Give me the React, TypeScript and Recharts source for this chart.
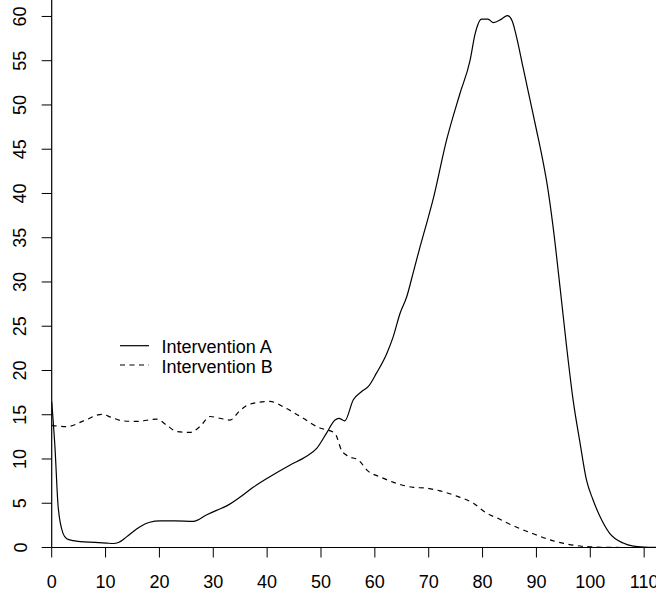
import React from "react";
import { LineChart, Line, XAxis, YAxis, Legend } from "recharts";

const seriesNames = ["Intervention A", "Intervention B"];

const aX = [0, 0.6, 1.2, 2.1, 2.8, 4, 5.3, 8, 10.2, 11.4, 12.5, 13.9, 16.4, 18.2, 20.1, 23, 26.3, 28.8, 30.6, 32.5, 35, 37.4, 40.5, 44.2, 47.3, 49.2, 51, 52.6, 53.3, 54.4, 56, 57.5, 58.8, 60.3, 62.2, 63.4, 64.7, 65.9, 67.1, 68.4, 69.6, 70.8, 73.3, 75.8, 77.7, 78.6, 79.8, 81, 82, 83.5, 84.6, 85.5, 86.3, 87.5, 88.8, 90, 91, 92, 93.1, 94.4, 95.6, 96.8, 98.1, 99.3, 100.5, 101.8, 103.6, 106.1, 108, 110, 112.2];
const aY = [16.5, 11.4, 4.6, 1.6, 1.0, 0.78, 0.66, 0.58, 0.5, 0.45, 0.6, 1.2, 2.35, 2.85, 3.0, 3.0, 2.95, 3.7, 4.2, 4.7, 5.7, 6.8, 8.0, 9.3, 10.3, 11.2, 12.9, 14.4, 14.6, 14.3, 16.7, 17.6, 18.2, 19.7, 21.9, 23.8, 26.5, 28.3, 31.0, 34.0, 36.6, 39.3, 46.0, 51.3, 55.1, 58.0, 59.7, 59.7, 59.3, 59.7, 60.1, 59.5, 57.7, 54.3, 50.6, 47.2, 44.3, 41.0, 36.2, 29.3, 22.7, 16.7, 11.8, 7.6, 5.4, 3.5, 1.6, 0.5, 0.15, 0.05, 0.02];

const bX = [0, 2.8, 5.9, 9.3, 11.1, 13.3, 15.8, 19.5, 21.3, 23.2, 25.7, 27.5, 29.4, 31.2, 33.1, 35, 36.8, 40.5, 43.6, 46.7, 49.8, 51, 52.6, 53.8, 55.1, 56.9, 58.8, 60.9, 64, 67.1, 69.6, 72.1, 75.2, 78.3, 80.7, 83.2, 84.5, 89.4, 93.7, 98.1, 102, 106, 112.2];
const bY = [13.8, 13.65, 14.3, 15.05, 14.7, 14.3, 14.25, 14.5, 13.85, 13.1, 13.0, 13.65, 14.8, 14.6, 14.4, 15.5, 16.2, 16.5, 15.7, 14.6, 13.5, 13.3, 12.9, 11.0, 10.3, 9.9, 8.6, 8.0, 7.25, 6.8, 6.7, 6.4, 5.8, 5.0, 3.9, 3.2, 2.8, 1.55, 0.66, 0.17, 0.03, 0.0, 0.0];

const xTicks = [0, 10, 20, 30, 40, 50, 60, 70, 80, 90, 100, 110];
const yTicks = [0, 5, 10, 15, 20, 25, 30, 35, 40, 45, 50, 55, 60];

const dataA = aX.map((x, i) => ({ x, y: aY[i] }));
const dataB = bX.map((x, i) => ({ x, y: bY[i] }));

const FONT = "'Liberation Sans', Arial, Helvetica, sans-serif";

const YTick = (props: any) => {
  const { y, payload } = props;
  const tx = 26.5;
  return (
    <text
      x={tx}
      y={y}
      transform={`rotate(-90 ${tx} ${y})`}
      textAnchor="middle"
      fontSize={18}
      fontFamily={FONT}
      fill="#000"
    >
      {payload.value}
    </text>
  );
};

const LegendContent = () => (
  <svg width={300} height={60} style={{ display: "block" }}>
    <line x1={10} x2={39} y1={15.7} y2={15.7} stroke="#000" strokeWidth={1.2} />
    <text x={51.6} y={22.7} fontSize={18} fontFamily={FONT} fill="#000">
      {seriesNames[0]}
    </text>
    <line x1={10} x2={39} y1={35} y2={35} stroke="#000" strokeWidth={1.2} strokeDasharray="5 4.5" />
    <text x={51.6} y={42.7} fontSize={18} fontFamily={FONT} fill="#000">
      {seriesNames[1]}
    </text>
  </svg>
);

export default function App() {
  return (
    <div style={{ position: "absolute", left: 0, top: 0, width: 656, height: 598, background: "#fff" }}>
      <LineChart width={656} height={598} margin={{ top: 0, right: 0, bottom: 0, left: 0 }}>
        <XAxis
          type="number"
          dataKey="x"
          domain={[0, 112.2]}
          ticks={xTicks}
          allowDataOverflow
          height={50.5}
          tickSize={10}
          tickMargin={17.5}
          stroke="#000"
          tickLine={{ stroke: "#000" }}
          axisLine={{ stroke: "#000", strokeWidth: 1.2 }}
          tick={{ fontSize: 18, fontFamily: FONT, fill: "#000" }}
          interval={0}
        />
        <YAxis
          type="number"
          dataKey="y"
          domain={[0, 61.86]}
          ticks={yTicks}
          allowDataOverflow
          width={51.7}
          tickSize={10}
          stroke="#000"
          axisLine={{ stroke: "#000", strokeWidth: 1.2 }}
          tick={<YTick />}
          interval={0}
        />
        <Legend
          layout="vertical"
          align="center"
          verticalAlign="middle"
          wrapperStyle={{ left: 110, top: 330, width: 300, height: 60 }}
          content={<LegendContent />}
        />
        <Line
          data={dataA}
          dataKey="y"
          name={seriesNames[0]}
          type="monotone"
          stroke="#000"
          strokeWidth={1.2}
          dot={false}
          activeDot={false}
          isAnimationActive={false}
        />
        <Line
          data={dataB}
          dataKey="y"
          name={seriesNames[1]}
          type="monotone"
          stroke="#000"
          strokeWidth={1.2}
          strokeDasharray="5 4.5"
          dot={false}
          activeDot={false}
          isAnimationActive={false}
        />
      </LineChart>
    </div>
  );
}
